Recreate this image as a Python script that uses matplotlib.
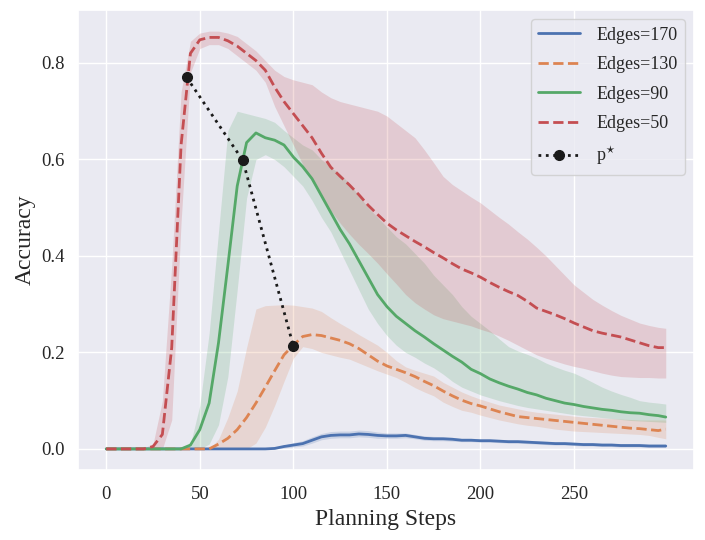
import matplotlib
matplotlib.use("Agg")
import matplotlib.pyplot as plt
import seaborn as sns

sns.set_theme(style="darkgrid")
plt.rcParams['font.family'] = ['Liberation Serif', 'DejaVu Serif']
plt.rcParams['mathtext.fontset'] = 'stix'

# pasos de planificacion (muestreados cada 5)
steps = list(range(0, 300, 5)) + [299]

# Edges=170
acc_170 = [0, 0, 0, 0, 0, 0, 0, 0, 0, 0,
           0, 0, 0, 0, 0, 0, 0, 0, 0.001, 0.005,
           0.008, 0.011, 0.018, 0.025, 0.028, 0.029, 0.029, 0.031, 0.03, 0.028,
           0.027, 0.027, 0.028, 0.025, 0.022, 0.021, 0.021, 0.02, 0.018, 0.018,
           0.017, 0.017, 0.016, 0.015, 0.015, 0.014, 0.013, 0.012, 0.011, 0.011,
           0.01, 0.009, 0.009, 0.008, 0.008, 0.007, 0.007, 0.007, 0.006, 0.006,
           0.006]
hi_170 = [0, 0, 0, 0, 0, 0, 0, 0, 0, 0,
          0, 0, 0, 0, 0, 0, 0, 0, 0.003, 0.008,
          0.013, 0.017, 0.025, 0.032, 0.036, 0.037, 0.037, 0.039, 0.038, 0.035,
          0.033, 0.033, 0.033, 0.03, 0.027, 0.026, 0.025, 0.024, 0.022, 0.022,
          0.021, 0.021, 0.02, 0.019, 0.019, 0.018, 0.017, 0.016, 0.015, 0.015,
          0.014, 0.013, 0.013, 0.012, 0.012, 0.011, 0.011, 0.011, 0.01, 0.01,
          0.01]
lo_170 = [0, 0, 0, 0, 0, 0, 0, 0, 0, 0,
          0, 0, 0, 0, 0, 0, 0, 0, 0, 0.002,
          0.004, 0.006, 0.012, 0.019, 0.022, 0.023, 0.023, 0.025, 0.024, 0.022,
          0.022, 0.022, 0.023, 0.021, 0.018, 0.017, 0.017, 0.016, 0.015, 0.015,
          0.014, 0.014, 0.013, 0.012, 0.012, 0.011, 0.01, 0.009, 0.008, 0.008,
          0.007, 0.006, 0.006, 0.005, 0.005, 0.004, 0.004, 0.004, 0.003, 0.003,
          0.003]

# Edges=130
acc_130 = [0, 0, 0, 0, 0, 0, 0, 0, 0, 0,
           0, 0, 0.01, 0.022, 0.04, 0.065, 0.095, 0.128, 0.162, 0.195,
           0.215, 0.233, 0.237, 0.235, 0.23, 0.225, 0.218, 0.208, 0.195, 0.182,
           0.172, 0.165, 0.158, 0.15, 0.14, 0.131, 0.12, 0.11, 0.101, 0.094,
           0.089, 0.083, 0.077, 0.072, 0.067, 0.065, 0.063, 0.061, 0.059, 0.057,
           0.055, 0.053, 0.051, 0.049, 0.047, 0.045, 0.043, 0.042, 0.04, 0.038,
           0.041]
hi_130 = [0, 0, 0, 0, 0, 0, 0, 0, 0, 0,
          0, 0, 0.02, 0.065, 0.12, 0.21, 0.29, 0.297, 0.298, 0.299,
          0.298, 0.295, 0.292, 0.285, 0.272, 0.26, 0.249, 0.237, 0.226, 0.215,
          0.2, 0.183, 0.17, 0.163, 0.157, 0.151, 0.138, 0.128, 0.118, 0.11,
          0.103, 0.097, 0.091, 0.087, 0.083, 0.079, 0.076, 0.074, 0.072, 0.07,
          0.068, 0.066, 0.065, 0.064, 0.063, 0.062, 0.061, 0.06, 0.06, 0.06,
          0.06]
lo_130 = [0, 0, 0, 0, 0, 0, 0, 0, 0, 0,
          0, 0, 0, 0, 0, 0, 0.012, 0.045, 0.09, 0.14,
          0.188, 0.212, 0.208, 0.2, 0.195, 0.19, 0.186, 0.178, 0.17, 0.162,
          0.155, 0.148, 0.138, 0.127, 0.118, 0.11, 0.097, 0.088, 0.08, 0.076,
          0.07, 0.065, 0.06, 0.056, 0.052, 0.049, 0.047, 0.044, 0.041, 0.039,
          0.037, 0.036, 0.035, 0.034, 0.033, 0.032, 0.031, 0.03, 0.028, 0.024,
          0.021]

# Edges=90
acc_90 = [0, 0, 0, 0, 0, 0, 0, 0, 0, 0.008,
          0.04, 0.095, 0.22, 0.38, 0.545, 0.635, 0.655, 0.645, 0.64, 0.63,
          0.605, 0.585, 0.56, 0.525, 0.49, 0.455, 0.425, 0.39, 0.355, 0.32,
          0.295, 0.275, 0.26, 0.245, 0.232, 0.218, 0.205, 0.192, 0.18, 0.165,
          0.156, 0.145, 0.137, 0.13, 0.124, 0.117, 0.112, 0.105, 0.1, 0.095,
          0.092, 0.088, 0.085, 0.082, 0.08, 0.077, 0.075, 0.074, 0.071, 0.069,
          0.066]
hi_90 = [0, 0, 0, 0, 0, 0, 0, 0, 0, 0.01,
         0.09, 0.24, 0.45, 0.66, 0.70, 0.695, 0.69, 0.685, 0.677, 0.66,
         0.645, 0.63, 0.62, 0.6, 0.584, 0.57, 0.55, 0.525, 0.5, 0.48,
         0.46, 0.44, 0.425, 0.405, 0.385, 0.36, 0.34, 0.32, 0.295, 0.275,
         0.26, 0.245, 0.228, 0.212, 0.203, 0.196, 0.188, 0.178, 0.17, 0.163,
         0.157, 0.148, 0.138, 0.128, 0.12, 0.113, 0.107, 0.1, 0.097, 0.095,
         0.093]
lo_90 = [0, 0, 0, 0, 0, 0, 0, 0, 0, 0,
         0, 0.01, 0.05, 0.15, 0.33, 0.52, 0.6, 0.61, 0.6, 0.585,
         0.565, 0.545, 0.515, 0.48, 0.45, 0.41, 0.37, 0.33, 0.29, 0.26,
         0.235, 0.215, 0.2, 0.19, 0.178, 0.168, 0.155, 0.14, 0.128, 0.12,
         0.112, 0.106, 0.1, 0.095, 0.09, 0.086, 0.083, 0.08, 0.077, 0.074,
         0.071, 0.069, 0.067, 0.065, 0.063, 0.061, 0.059, 0.058, 0.057, 0.056,
         0.055]

# Edges=50
acc_50 = [0, 0, 0, 0, 0, 0.005, 0.03, 0.21, 0.63, 0.82,
          0.848, 0.853, 0.853, 0.846, 0.835, 0.82, 0.805, 0.785, 0.75, 0.72,
          0.695, 0.67, 0.645, 0.613, 0.584, 0.565, 0.547, 0.527, 0.505, 0.486,
          0.468, 0.454, 0.442, 0.43, 0.419, 0.407, 0.396, 0.384, 0.373, 0.365,
          0.356, 0.345, 0.335, 0.326, 0.318, 0.306, 0.292, 0.285, 0.278, 0.27,
          0.261, 0.253, 0.245, 0.24, 0.236, 0.232, 0.226, 0.22, 0.214, 0.21,
          0.21]
hi_50 = [0, 0, 0, 0, 0.002, 0.01, 0.1, 0.38, 0.74, 0.845,
         0.862, 0.866, 0.866, 0.862, 0.855, 0.84, 0.825, 0.805, 0.785, 0.772,
         0.765, 0.76, 0.755, 0.74, 0.728, 0.72, 0.715, 0.71, 0.705, 0.7,
         0.69, 0.675, 0.66, 0.645, 0.62, 0.593, 0.565, 0.548, 0.535, 0.522,
         0.51, 0.495, 0.48, 0.466, 0.45, 0.435, 0.418, 0.4, 0.38, 0.36,
         0.34, 0.325, 0.31, 0.298, 0.287, 0.277, 0.269, 0.261, 0.256, 0.252,
         0.25]
lo_50 = [0, 0, 0, 0, 0, 0, 0, 0.06, 0.47, 0.78,
         0.83, 0.838, 0.838, 0.83, 0.815, 0.8, 0.785, 0.76, 0.71, 0.67,
         0.63, 0.59, 0.555, 0.525, 0.494, 0.468, 0.445, 0.424, 0.405, 0.385,
         0.363, 0.342, 0.32, 0.303, 0.29, 0.278, 0.27, 0.265, 0.26, 0.255,
         0.248, 0.242, 0.234, 0.225, 0.215, 0.205, 0.195, 0.188, 0.182, 0.176,
         0.171, 0.167, 0.162, 0.157, 0.153, 0.15, 0.149, 0.148, 0.148, 0.147,
         0.147]

# p* (punto optimo de cada curva)
pstar_x = [43, 73, 100]
pstar_y = [0.77, 0.598, 0.213]

colores = sns.color_palette("deep")

fig, ax = plt.subplots(figsize=(7.05, 5.4), dpi=100)

series = [
    ("Edges=170", acc_170, lo_170, hi_170, colores[0], '-'),
    ("Edges=130", acc_130, lo_130, hi_130, colores[1], '--'),
    ("Edges=90", acc_90, lo_90, hi_90, colores[2], '-'),
    ("Edges=50", acc_50, lo_50, hi_50, colores[3], '--'),
]
for nombre, media, bajo, alto, color, estilo in series:
    ax.plot(steps, media, estilo, color=color, lw=2, label=nombre)
    ax.fill_between(steps, bajo, alto, color=color, alpha=0.2, lw=0)

ax.plot(pstar_x, pstar_y, ':', color='k', lw=2, marker='o', markersize=7,
        label=r'p$^{\star}$', zorder=5)

ax.set_xticks([0, 50, 100, 150, 200, 250])
ax.set_xlabel("Planning Steps", fontsize=17)
ax.set_ylabel("Accuracy", fontsize=17)
ax.tick_params(labelsize=13.5)
ax.tick_params(axis='x', pad=6)
ax.legend(loc='upper right', fontsize=13, handlelength=2.3,
          handletextpad=0.9, labelspacing=0.7)

plt.subplots_adjust(left=0.111, right=0.984, top=0.981, bottom=0.13)
plt.savefig("out.png", dpi=100)
